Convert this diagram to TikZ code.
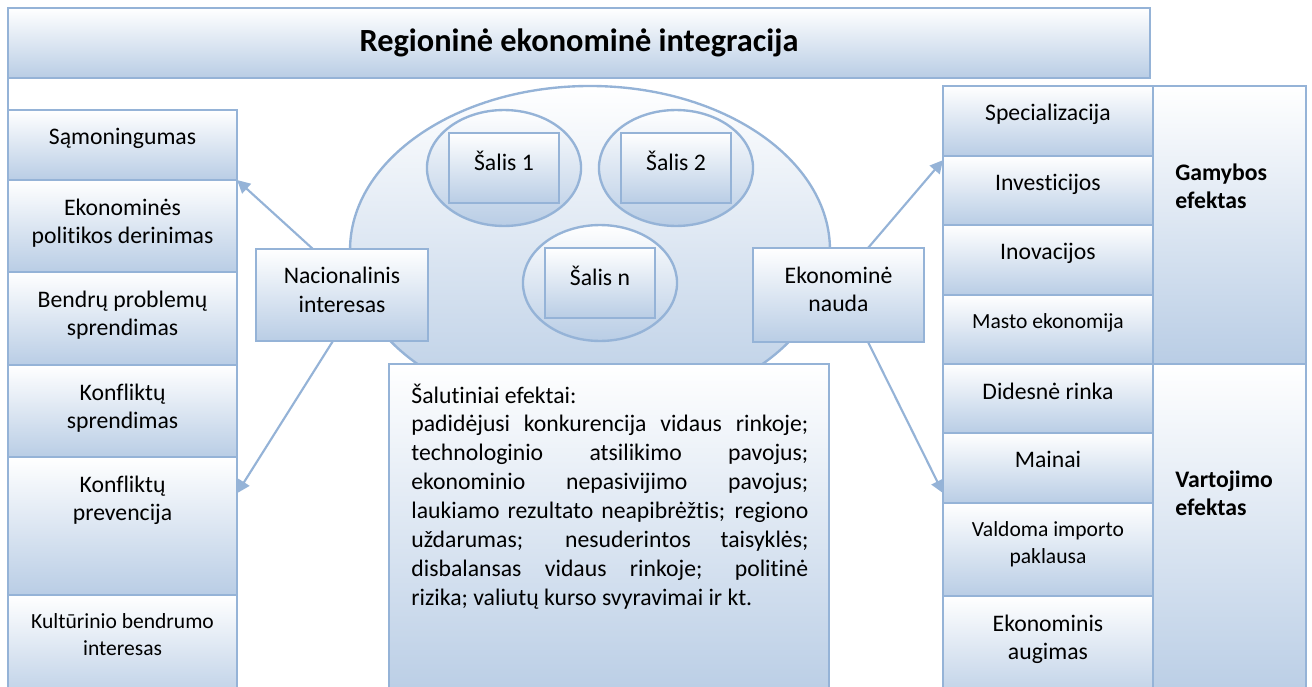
\documentclass[tikz,border=0pt]{standalone}
\usepackage{fontspec}
\setmainfont{Carlito}[Ligatures=NoCommon]
\usepackage{xcolor}
\usepackage{tikz}
\usetikzlibrary{arrows.meta, positioning, shapes.geometric}
\definecolor{frameblue}{RGB}{149, 179, 215}
\definecolor{shadeblue}{RGB}{185, 205, 229}
\tolerance=9999
\hyphenpenalty=10000

\begin{document}
\begin{tikzpicture}[
			x=0.464pt, y=-0.464pt,
			node distance=8.4pt,
			cell/.style={rectangle, draw=frameblue, line width=1.1pt, top color=white, bottom color=shadeblue, inner sep=0pt, outer sep=0pt},
			lcell/.style={cell, minimum width=106.3pt},
			rcell/.style={cell, minimum width=97.4pt},
			ecell/.style={cell, minimum width=71pt},
			oval/.style={ellipse, draw=frameblue, line width=1.1pt, top color=white, bottom color=shadeblue, inner sep=0pt},
			txt/.style={inner sep=0pt, align=center, font=\fontsize{11}{13}\selectfont},
			smalltxt/.style={txt, font=\fontsize{10}{12.5}\selectfont},
			efftxt/.style={inner sep=0pt, align=left, font=\fontsize{11}{13}\selectfont\bfseries},
			arrow/.style={-{Triangle[length=6pt, width=6pt]}, draw=frameblue, line width=1pt}
		]
		\useasboundingbox (0,0) rectangle (1312,687);
		\clip (0,0) rectangle (1312,687);
		
		% Title
		\node[cell, minimum width=529.9pt, minimum height=32.5pt, anchor=north west, font=\fontsize{15}{18}\selectfont\bfseries] (title) at (8,8) {Regioninė ekonominė integracija};
		
		% Left column
		\node[lcell, minimum height=32.5pt, anchor=north west] (sam) at (8,110) {};
		\node[lcell, minimum height=42.7pt, below=0pt of sam] (ekp) {};
		\node[lcell, minimum height=43.2pt, below=0pt of ekp] (bpr) {};
		\node[lcell, minimum height=42.7pt, below=0pt of bpr] (kfs) {};
		\node[lcell, minimum height=64pt, below=0pt of kfs] (kfp) {};
		\node[lcell, minimum height=51pt, below=0pt of kfp] (kbi) {};
		\draw[frameblue, line width=1.1pt] (title.south west) -- (sam.north west);
		
		\node[txt, below=of sam.north] (sam-t) {Sąmoningumas};
		\node[txt, below=of ekp.north] (ekp-t) {Ekonominės\\politikos derinimas};
		\node[txt, below=of bpr.north] (bpr-t) {Bendrų problemų\\sprendimas};
		\node[txt, below=of kfs.north] (kfs-t) {Konfliktų\\sprendimas};
		\node[txt, below=of kfp.north] (kfp-t) {Konfliktų\\prevencija};
		\node[smalltxt, below=of kbi.north] (kbi-t) {Kultūrinio bendrumo\\interesas};
		
		% Right column
		\node[rcell, minimum height=32.5pt, anchor=north west] (spe) at (943,86) {};
		\node[rcell, minimum height=32pt, below=0pt of spe] (inv) {};
		\node[rcell, minimum height=32.5pt, below=0pt of inv] (ino) {};
		\node[rcell, minimum height=32pt, below=0pt of ino] (mas) {};
		\node[rcell, minimum height=32pt, below=0pt of mas] (did) {};
		\node[rcell, minimum height=32.5pt, below=0pt of did] (mai) {};
		\node[rcell, minimum height=43.2pt, below=0pt of mai] (val) {};
		\node[rcell, minimum height=51pt, below=0pt of val] (eka) {};
		\node[ecell, minimum height=129pt, below right=0pt and 0pt of spe.north east] (gam) {};
		\node[ecell, minimum height=155.9pt, below=0pt of gam] (var) {};
		
		\node[txt, below=of spe.north] (spe-t) {Specializacija};
		\node[txt, below=of inv.north] (inv-t) {Investicijos};
		\node[txt, below=of ino.north] (ino-t) {Inovacijos};
		\node[smalltxt, below=of mas.north] (mas-t) {Masto ekonomija};
		\node[txt, below=of did.north] (did-t) {Didesnė rinka};
		\node[txt, below=of mai.north] (mai-t) {Mainai};
		\node[smalltxt, below=of val.north] (val-t) {Valdoma importo\\paklausa};
		\node[txt, below=of eka.north] (eka-t) {Ekonominis\\augimas};
		\node[efftxt, below right=35.7pt and 10.2pt of gam.north west] (gam-t) {Gamybos\\efektas};
		\node[efftxt, below right=49.2pt and 10.2pt of var.north west] (var-t) {Vartojimo\\efektas};
		
		% Region with countries
		\node[oval, minimum width=222.7pt, minimum height=152.2pt] (region) at (590,250) {};
		\node[oval, minimum width=71.5pt, minimum height=53.8pt] (s1e) at (504,168) {};
		\node[oval, minimum width=71.5pt, minimum height=53.8pt] (s2e) at (676,168) {};
		\node[oval, minimum width=71.5pt, minimum height=53.8pt] (sne) at (600,283) {};
		\node[cell, minimum width=51pt, minimum height=32.5pt] (s1) at (s1e) {};
		\node[cell, minimum width=51pt, minimum height=32.5pt] (s2) at (s2e) {};
		\node[cell, minimum width=51pt, minimum height=32.5pt] (sn) at (sne) {};
		\node[txt, below=of s1.north] (s1-t) {Šalis 1};
		\node[txt, below=of s2.north] (s2-t) {Šalis 2};
		\node[txt, below=of sn.north] (sn-t) {Šalis n};
		
		% Interest and benefit
		\node[cell, minimum width=79.8pt, minimum height=42.7pt] (nat) at (342,295) {};
		\node[cell, minimum width=79.3pt, minimum height=43.6pt] (eko) at (838.5,295) {};
		\node[txt, below=of nat.north] (nat-t) {Nacionalinis\\interesas};
		\node[txt, below=of eko.north] (eko-t) {Ekonominė\\nauda};
		
		% Side effects
		\node[cell, minimum width=204.2pt, minimum height=155.9pt, anchor=north west] (side) at (389,364) {};
		\node[inner sep=0pt, text width=184.2pt, align=justify, font=\fontsize{11}{13.4}\selectfont, below right=8.9pt and 10.2pt of side.north west] (side-t) {Šalutiniai efektai:\\
			padidėjusi konkurencija vidaus rinkoje;\linebreak technologinio atsilikimo pavojus;\linebreak ekonominio nepasivijimo pavojus;\linebreak laukiamo rezultato neapibrėžtis; regiono\linebreak uždarumas; nesuderintos taisyklės;\linebreak disbalansas vidaus rinkoje; politinė\linebreak rizika; valiutų kurso svyravimai ir kt.};
		
		\draw[arrow] ([xshift=-13.5pt]nat.north) -- (sam.south east);
		\draw[arrow] ([xshift=-4.2pt]nat.south) -- ([yshift=-16.7pt]kfp.north east);
		\draw[arrow] ([xshift=13.7pt]eko.north) -- ([yshift=-1.9pt]inv.north west);
		\draw[arrow] ([xshift=13.7pt]eko.south) -- ([yshift=4.6pt]mai.south west);
		\end{tikzpicture}
\end{document}
